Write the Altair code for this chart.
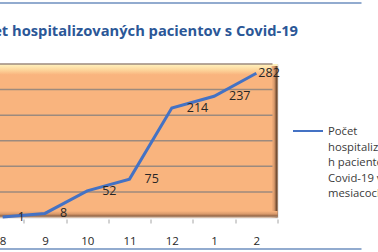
import altair as alt
import pandas as pd

months = ["8", "9", "10", "11", "12", "1", "2"]
patients = [1, 8, 52, 75, 214, 237, 282]
grid_values = [50, 100, 150, 200, 250, 300]
title_text = "Počet hospitalizovaných pacientov s Covid-19"
legend_lines = ["Počet", "hospitalizovanýc", "h pacientov s", "Covid-19 v", "mesiacoch"]

df = pd.DataFrame({"month": months, "value": patients, "idx": list(range(len(months)))})
grid_df = pd.DataFrame({"v": grid_values})
one = pd.DataFrame({"a": [0]})

W, H = 296, 153.5
ORANGE = "#F9B47E"
BLUE = "#4472C4"

xenc = alt.X(
    "month:O", sort=months, bandPosition=0.5,
    scale=alt.Scale(type="band", paddingInner=0, paddingOuter=0),
    axis=alt.Axis(title=None, tickBand="extent", domain=False, grid=False,
                  tickSize=4, tickColor="#A6A6A6", tickWidth=1, offset=1.5,
                  labelPadding=12, labelFontSize=11.5, labelColor="#262626",
                  labelFont="Open Sans", labelAngle=0),
)
yenc = alt.Y("value:Q", scale=alt.Scale(domain=[0, 300], nice=False, zero=True), axis=None)

wall = alt.Chart(one).mark_rect(
    fill=alt.Gradient(gradient="linear", x1=0, x2=0, y1=0, y2=1,
                      stops=[alt.GradientStop(color="#FFF4C0", offset=0),
                             alt.GradientStop(color="#FDD49A", offset=0.04),
                             alt.GradientStop(color=ORANGE, offset=0.07),
                             alt.GradientStop(color=ORANGE, offset=1)])
).encode(x=alt.value(0), x2=alt.value(W), y=alt.value(0), y2=alt.value(H))

right_shadow = alt.Chart(one).mark_rect(
    fill=alt.Gradient(gradient="linear", x1=0, x2=1, y1=0, y2=0,
                      stops=[alt.GradientStop(color=ORANGE, offset=0),
                             alt.GradientStop(color="#D99A6C", offset=0.45),
                             alt.GradientStop(color="#8A5E3E", offset=0.75),
                             alt.GradientStop(color="#4A3220", offset=1)])
).encode(x=alt.value(W - 6), x2=alt.value(W), y=alt.value(2), y2=alt.value(H))

bottom_shadow = alt.Chart(one).mark_rect(
    fill=alt.Gradient(gradient="linear", x1=0, x2=0, y1=0, y2=1,
                      stops=[alt.GradientStop(color=ORANGE, offset=0),
                             alt.GradientStop(color="#D99A6C", offset=0.45),
                             alt.GradientStop(color="#9A6A48", offset=0.75),
                             alt.GradientStop(color="#B8A89C", offset=1)])
).encode(x=alt.value(0), x2=alt.value(W), y=alt.value(H - 6.5), y2=alt.value(H))

grid = alt.Chart(grid_df).mark_rule(color="#9C8A7E", strokeWidth=1.5).encode(
    y=alt.Y("v:Q", scale=alt.Scale(domain=[0, 300], nice=False, zero=True), axis=None),
    x=alt.value(0), x2=alt.value(W - 5),
)

line = alt.Chart(df).mark_line(color=BLUE, strokeWidth=3).encode(x=xenc, y=yenc)

labels = alt.Chart(df).mark_text(
    align="left", baseline="middle", dx=15, fontSize=12.5, color="#262626", font="Open Sans"
).encode(x=xenc, y=yenc, text="value:Q").transform_filter("datum.idx < 6")

last_label = alt.Chart(df).mark_text(
    align="left", baseline="middle", dx=2, fontSize=12.5, color="#262626", font="Open Sans"
).encode(x=xenc, y=yenc, text="value:Q").transform_filter("datum.idx == 6")

title = alt.Chart(one).mark_text(
    align="right", baseline="alphabetic", fontSize=14.7, fontWeight="bold",
    font="Open Sans", color="#2B5797"
).encode(x=alt.value(316.5), y=alt.value(-28), text=alt.value(title_text))

legend_rule = alt.Chart(one).mark_rule(color=BLUE, strokeWidth=2).encode(
    x=alt.value(311.5), x2=alt.value(341.5), y=alt.value(67))

legend_text = alt.Chart(one).mark_text(
    align="left", baseline="alphabetic", fontSize=11.3, font="Open Sans",
    color="#3A3A3A", lineHeight=15.5
).encode(x=alt.value(346.5), y=alt.value(71), text=alt.value(legend_lines))

frame_top = alt.Chart(one).mark_rule(color="#6E8FBF", strokeWidth=1.5).encode(
    x=alt.value(-20), x2=alt.value(380), y=alt.value(-61))
frame_bottom = alt.Chart(one).mark_rule(color="#6E8FBF", strokeWidth=1.5).encode(
    x=alt.value(-20), x2=alt.value(380), y=alt.value(185))

chart = alt.layer(
    wall, right_shadow, bottom_shadow, grid, line, labels, last_label,
    title, legend_rule, legend_text, frame_top, frame_bottom
).properties(
    width=W, height=H,
    autosize=alt.AutoSizeParams(type="none"),
    padding={"left": -18.5, "top": 64, "right": 100.5, "bottom": 34.5},
).configure_view(stroke=None).configure(background="white")

chart.save("out.html", embed_options={"renderer": "svg", "actions": False})
